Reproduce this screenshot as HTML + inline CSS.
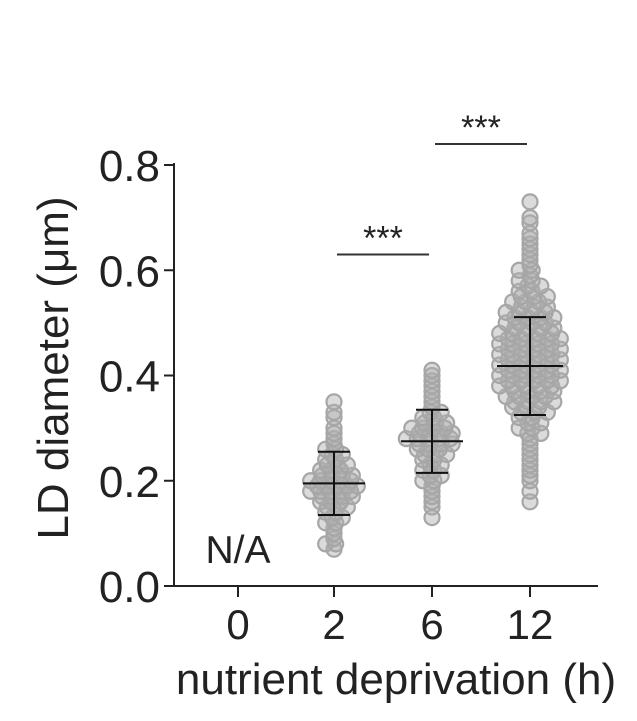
<!DOCTYPE html>
<html><head><meta charset="utf-8"><style>
html,body{margin:0;padding:0;background:#fff;}
svg{display:block;font-family:"Liberation Sans",Arial,sans-serif;}
</style></head><body>
<svg id="chart" width="637" height="721" viewBox="0 0 637 721" xmlns="http://www.w3.org/2000/svg">
<g id="axes"></g>
<g id="points"></g>
<g id="bars"></g>
<g id="sig"></g>
</svg>
<script>
const categories = ["0","2","6","12"];
const yTicks = [0.0,0.2,0.4,0.6,0.8];
const yTickLabels = ["0.0","0.2","0.4","0.6","0.8"];
const values2 = [0.35,0.33,0.32,0.30,0.29,0.28,0.27,0.26,0.26,0.25,0.25,0.24,0.24,0.23,0.23,0.23,0.22,0.22,0.22,0.21,0.21,0.21,0.21,0.20,0.20,0.20,0.20,0.20,0.19,0.19,0.19,0.19,0.19,0.18,0.18,0.18,0.18,0.18,0.17,0.17,0.17,0.17,0.16,0.16,0.16,0.15,0.15,0.15,0.14,0.14,0.13,0.13,0.12,0.12,0.11,0.10,0.09,0.08,0.08,0.07];
const values6 = [0.41,0.40,0.39,0.38,0.37,0.36,0.35,0.34,0.33,0.33,0.32,0.32,0.31,0.31,0.31,0.30,0.30,0.30,0.30,0.29,0.29,0.29,0.29,0.28,0.28,0.28,0.28,0.28,0.27,0.27,0.27,0.27,0.26,0.26,0.26,0.25,0.25,0.25,0.24,0.24,0.23,0.23,0.22,0.22,0.21,0.21,0.20,0.20,0.19,0.18,0.17,0.16,0.15,0.13];
const values12 = [0.73,0.70,0.69,0.67,0.66,0.65,0.64,0.63,0.62,0.61,0.60,0.60,0.59,0.58,0.58,0.57,0.57,0.56,0.56,0.55,0.55,0.55,0.54,0.54,0.54,0.53,0.53,0.53,0.52,0.52,0.52,0.52,0.51,0.51,0.51,0.51,0.50,0.50,0.50,0.50,0.49,0.49,0.49,0.49,0.48,0.48,0.48,0.48,0.48,0.47,0.47,0.47,0.47,0.47,0.46,0.46,0.46,0.46,0.46,0.45,0.45,0.45,0.45,0.45,0.44,0.44,0.44,0.44,0.44,0.43,0.43,0.43,0.43,0.43,0.42,0.42,0.42,0.42,0.42,0.41,0.41,0.41,0.41,0.41,0.40,0.40,0.40,0.40,0.40,0.39,0.39,0.39,0.39,0.39,0.38,0.38,0.38,0.38,0.38,0.37,0.37,0.37,0.37,0.36,0.36,0.36,0.36,0.35,0.35,0.35,0.35,0.34,0.34,0.34,0.33,0.33,0.33,0.32,0.32,0.31,0.31,0.30,0.30,0.29,0.29,0.28,0.27,0.26,0.25,0.24,0.23,0.22,0.21,0.20,0.18,0.16];
const means = [null,0.195,0.275,0.418];
const sds = [null,0.06,0.06,0.093];
const sigPairs = [[1,2,0.63],[2,3,0.84]];

const NS="http://www.w3.org/2000/svg";
const y = v => 586 - v/0.8*421;
const xPos = [238,334,432,530];
const x = i => xPos[i];
function mk(tag, parent, attrs){const e=document.createElementNS(NS,tag);for(const k in attrs)e.setAttribute(k,attrs[k]);parent.appendChild(e);return e;}

const axes=document.getElementById('axes');
let el=mk('line',axes,{x1:174,y1:163,x2:174,y2:587,stroke:'#222','stroke-width':2});


el=mk('line',axes,{x1:173,y1:586,x2:598,y2:586,stroke:'#222','stroke-width':2});


yTicks.forEach((t,i)=>{
  const tk=mk('line',axes,{x1:164,y1:y(t),x2:174,y2:y(t),stroke:'#222','stroke-width':2});
  
  
  const tl=mk('text',axes,{x:160,y:y(t)+16,'text-anchor':'end','font-size':44,fill:'#222'});
  tl.textContent=yTickLabels[i];
  
  
});
categories.forEach((c,i)=>{
  const tk=mk('line',axes,{x1:x(i),y1:586,x2:x(i),y2:597,stroke:'#222','stroke-width':2});
  
  
  const tl=mk('text',axes,{x:x(i),y:639,'text-anchor':'middle','font-size':42,fill:'#222'});
  tl.textContent=c;
  
  
});
el=mk('text',axes,{x:396,y:694,'text-anchor':'middle','font-size':44,fill:'#222'});
el.textContent='nutrient deprivation (h)';


el=mk('text',axes,{x:0,y:0,'text-anchor':'middle','font-size':44,fill:'#222',transform:'translate(68,368) rotate(-90)'});
el.textContent='LD diameter  (\u03bcm)';


el=mk('text',axes,{x:238,y:563,'text-anchor':'middle','font-size':39,fill:'#222'});
el.textContent='N/A';



const pts=document.getElementById('points');
[[1,values2,10],[2,values6,11],[3,values12,13]].forEach(([gi,vals,sp])=>{
  const bins={};
  vals.forEach(v=>{const k=Math.round(v*100);(bins[k]=bins[k]||[]).push(v);});
  Object.keys(bins).forEach(k=>{
    const arr=bins[k];const n=arr.length;const shift=(k%2)?sp/3:-sp/3;
    arr.forEach((v,j)=>{
      const off=n===1?0:(j-(n-1)/2)*sp+shift;
      const c=mk('circle',pts,{cx:x(gi)+off,cy:y(v),r:7.5,fill:'#b0b0b0','fill-opacity':0.45,stroke:'#a6a6a6','stroke-width':2.2});
      
      
    });
  });
});

const bars=document.getElementById('bars');
[1,2,3].forEach(i=>{
  const m=means[i],s=sds[i],cx=x(i),hw=i===3?33:31,cw=16;
  const parts=[[cx,y(m+s),cx,y(m-s),'sd-line'],[cx-hw,y(m),cx+hw,y(m),'mean-line'],[cx-cw,y(m+s),cx+cw,y(m+s),'sd-cap-upper'],[cx-cw,y(m-s),cx+cw,y(m-s),'sd-cap-lower']];
  parts.forEach(p=>{
    const l=mk('line',bars,{x1:p[0],y1:p[1],x2:p[2],y2:p[3],stroke:'#111','stroke-width':2});
    
    
  });
});

const sig=document.getElementById('sig');
sigPairs.forEach(([a,b,v])=>{
  const l=mk('line',sig,{x1:x(a)+3,y1:y(v),x2:x(b)-3,y2:y(v),stroke:'#333','stroke-width':2});
  
  
  const t=mk('text',sig,{x:(x(a)+x(b))/2,y:y(v)-5,'text-anchor':'middle','font-size':34,fill:'#222'});
  t.textContent='***';
  
  
});
</script>
</body></html>
